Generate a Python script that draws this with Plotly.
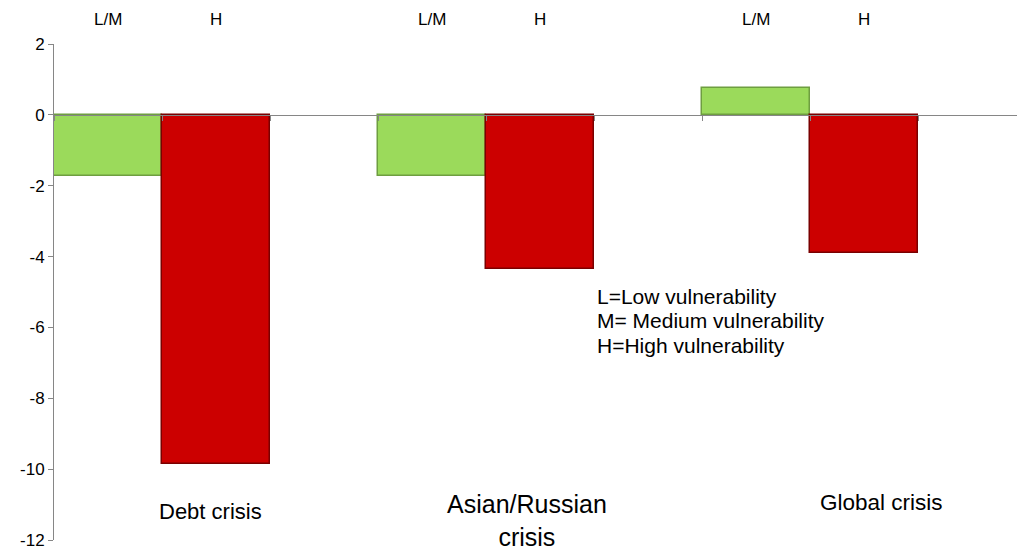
import plotly.graph_objects as go

# Output change by crisis episode, split by vulnerability group
crises = ["Debt crisis", "Asian/Russian<br>crisis", "Global crisis"]
group_labels = ["L/M", "H"]
low_medium = [-1.72, -1.72, 0.75]
high = [-9.85, -4.35, -3.9]

y_ticks = [2, 0, -2, -4, -6, -8, -10, -12]
y_tick_text = ["2", "0", "-2", "-4", "-6", "-8", "-10", "-12"]

legend_lines = ["L=Low vulnerability", "M= Medium vulnerability", "H=High vulnerability"]

FONT = "Arial, Liberation Sans, sans-serif"
GREEN = "#9BDA5B"
GREEN_EDGE = "#6E9E40"
RED = "#CC0000"
RED_EDGE = "#7A0000"
AXIS = "#868686"

W, H = 1017, 550
ML, MR, MT, MB = 54, 0, 44, 10
PW, PH = W - ML - MR, H - MT - MB


def px_to_paper(px, py):
    return (px - ML) / PW, (H - MB - py) / PH


# each crisis occupies three category slots: L/M, H, and an empty spacer
slot = 3
x_lm = [slot * i for i in range(len(crises))]
x_h = [slot * i + 1 for i in range(len(crises))]

fig = go.Figure()
fig.add_trace(go.Bar(
    x=x_lm, y=low_medium, width=1,
    marker=dict(color=GREEN, line=dict(color=GREEN_EDGE, width=1.5)),
    name="L/M", showlegend=False, hoverinfo="y",
))
fig.add_trace(go.Bar(
    x=x_h, y=high, width=1,
    marker=dict(color=RED, line=dict(color=RED_EDGE, width=1.5)),
    name="H", showlegend=False, hoverinfo="y",
))

n_slots = slot * len(crises)
x_range = [-0.5, -0.5 + PW / 108]
y_range = [-12, 2]
zero_pos = (0 - y_range[0]) / (y_range[1] - y_range[0])

annotations = []
# group labels across the top
for xs, lab in ((x_lm, group_labels[0]), (x_h, group_labels[1])):
    for xv in xs:
        annotations.append(dict(
            x=xv, y=1, xref="x", yref="paper", text=lab, showarrow=False,
            yanchor="middle", yshift=25, font=dict(family=FONT, size=17, color="black"),
        ))

# crisis names beneath the bars
crisis_pos = [((158 + 263) / 2, 511, 22), (527, 520, 25), ((819 + 943) / 2, 502, 22.5)]
for name, (px, py, fs) in zip(crises, crisis_pos):
    xp, yp = px_to_paper(px, py)
    annotations.append(dict(
        x=xp, y=yp, xref="paper", yref="paper", text=name, showarrow=False,
        xanchor="center", yanchor="middle", align="center",
        font=dict(family=FONT, size=fs, color="black"),
    ))

# key to the abbreviations, one line per entry
for i, line in enumerate(legend_lines):
    xp, yp = px_to_paper(595, 296 + 24.5 * i)
    annotations.append(dict(
        x=xp, y=yp, xref="paper", yref="paper", text=line, showarrow=False,
        xanchor="left", yanchor="middle", align="left",
        font=dict(family=FONT, size=21, color="black"),
    ))

fig.update_layout(
    width=W, height=H,
    margin=dict(l=ML, r=MR, t=MT, b=MB),
    paper_bgcolor="white", plot_bgcolor="white",
    barmode="overlay", bargap=0,
    showlegend=False,
    annotations=annotations,
    xaxis=dict(
        range=x_range, anchor="free", position=zero_pos,
        tickmode="array", tickvals=[k - 0.5 for k in range(n_slots + 1)],
        showticklabels=False, ticks="outside", ticklen=5, tickcolor=AXIS,
        showline=True, linecolor=AXIS, linewidth=1,
        showgrid=False, zeroline=False,
    ),
    yaxis=dict(
        range=y_range, tickmode="array", tickvals=y_ticks, ticktext=y_tick_text,
        ticks="outside", ticklen=5, tickcolor=AXIS,
        showline=True, linecolor=AXIS, linewidth=1,
        showgrid=False, zeroline=False,
        tickfont=dict(family=FONT, size=17, color="black"),
    ),
)

fig.write_html("out.html")
